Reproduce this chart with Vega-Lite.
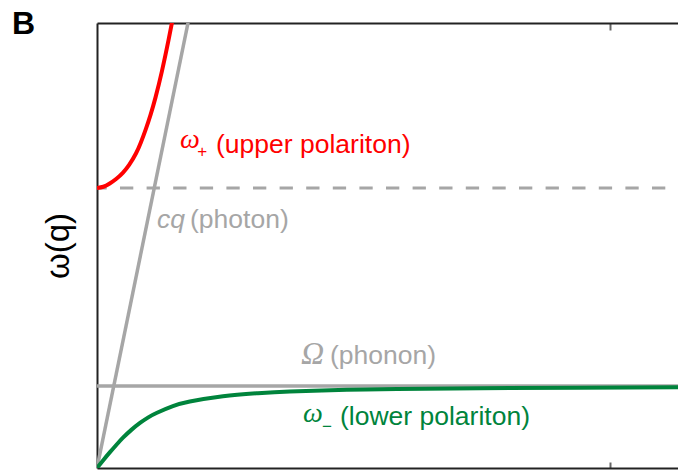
{
  "$schema": "https://vega.github.io/schema/vega-lite/v6.json",
  "width": 581,
  "height": 445,
  "autosize": {"type": "none"},
  "padding": {"left": 97, "top": 23, "right": 0, "bottom": 3},
  "background": "white",
  "config": {"view": {"stroke": null}, "font": "Liberation Sans"},
  "title": {
    "text": "B",
    "anchor": "start",
    "frame": "group",
    "font": "Liberation Sans",
    "fontSize": 32,
    "fontWeight": "bold",
    "color": "black",
    "baseline": "alphabetic",
    "offset": 0,
    "dx": -85,
    "dy": 44
  },
  "datasets": {
    "curves": [
      {"series": "photon", "q": 0, "w": 0},
      {"series": "photon", "q": 0.1800, "w": 5.507},
      {"series": "phonon", "q": 0, "w": 1},
      {"series": "phonon", "q": 1.1326, "w": 1},
      {"series": "omegaL", "q": 0, "w": 3.415},
      {"series": "omegaL", "q": 1.1326, "w": 3.415},
      {"series": "lower", "q": 0, "w": 0},
      {"series": "lower", "q": 0.0126, "w": 0.098},
      {"series": "lower", "q": 0.0253, "w": 0.193},
      {"series": "lower", "q": 0.038, "w": 0.284},
      {"series": "lower", "q": 0.0507, "w": 0.37},
      {"series": "lower", "q": 0.067, "w": 0.465},
      {"series": "lower", "q": 0.0838, "w": 0.55},
      {"series": "lower", "q": 0.10, "w": 0.618},
      {"series": "lower", "q": 0.117, "w": 0.674},
      {"series": "lower", "q": 0.148, "w": 0.754},
      {"series": "lower", "q": 0.181, "w": 0.81},
      {"series": "lower", "q": 0.2456, "w": 0.875},
      {"series": "lower", "q": 0.312, "w": 0.912},
      {"series": "lower", "q": 0.376, "w": 0.934},
      {"series": "lower", "q": 0.487, "w": 0.953},
      {"series": "lower", "q": 0.585, "w": 0.963},
      {"series": "lower", "q": 0.747, "w": 0.973},
      {"series": "lower", "q": 0.936, "w": 0.98},
      {"series": "lower", "q": 1.1326, "w": 0.984},
      {"series": "upper", "q": 0, "w": 3.415},
      {"series": "upper", "q": 0.01235, "w": 3.43},
      {"series": "upper", "q": 0.0248, "w": 3.47},
      {"series": "upper", "q": 0.0372, "w": 3.525},
      {"series": "upper", "q": 0.0503, "w": 3.60},
      {"series": "upper", "q": 0.063, "w": 3.70},
      {"series": "upper", "q": 0.0759, "w": 3.835},
      {"series": "upper", "q": 0.0855, "w": 3.97},
      {"series": "upper", "q": 0.095, "w": 4.13},
      {"series": "upper", "q": 0.1045, "w": 4.31},
      {"series": "upper", "q": 0.1141, "w": 4.52},
      {"series": "upper", "q": 0.1266, "w": 4.84},
      {"series": "upper", "q": 0.1395, "w": 5.22},
      {"series": "upper", "q": 0.1467, "w": 5.45},
      {"series": "upper", "q": 0.1519, "w": 5.62}
    ],
    "labels": [
      {"series": "upper", "kind": "omega", "q": 0.1618, "w": 3.90, "text": "ω"},
      {"series": "upper", "kind": "sub", "q": 0.1955, "w": 3.79, "text": "+"},
      {"series": "upper", "kind": "name", "q": 0.232, "w": 3.84, "text": "(upper polariton)"},
      {"series": "photon", "kind": "symsans", "q": 0.117, "w": 2.93, "text": "cq"},
      {"series": "photon", "kind": "name", "q": 0.1813, "w": 2.93, "text": "(photon)"},
      {"series": "phonon", "kind": "Omega", "q": 0.3976, "w": 1.268, "text": "Ω"},
      {"series": "phonon", "kind": "name", "q": 0.454, "w": 1.268, "text": "(phonon)"},
      {"series": "lower", "kind": "omega", "q": 0.4016, "w": 0.56, "text": "ω"},
      {"series": "lower", "kind": "sub", "q": 0.4385, "w": 0.445, "text": "−"},
      {"series": "lower", "kind": "name", "q": 0.4737, "w": 0.524, "text": "(lower polariton)"}
    ]
  },
  "resolve": {"axis": {"x": "independent"}},
  "layer": [
    {
      "data": {"name": "curves"},
      "transform": [{"filter": "datum.series === 'photon' || datum.series === 'phonon'"}],
      "mark": {"type": "line", "clip": true, "color": "#a6a6a6", "strokeWidth": 3.5},
      "encoding": {
        "x": {
          "field": "q", "type": "quantitative",
          "scale": {"domain": [0, 1.1326], "nice": false, "zero": false},
          "axis": {
            "orient": "bottom", "values": [1], "labels": false, "grid": false, "title": null,
            "ticks": true, "tickSize": -6, "tickWidth": 2, "tickColor": "#666666",
            "domainColor": "#222222", "domainWidth": 2
          }
        },
        "y": {
          "field": "w", "type": "quantitative",
          "scale": {"domain": [0, 5.427], "nice": false, "zero": false},
          "axis": {
            "orient": "left", "ticks": false, "labels": false, "grid": false,
            "domainColor": "#222222", "domainWidth": 2,
            "title": "ω(q)", "titleFont": "Liberation Sans", "titleFontSize": 33,
            "titleFontWeight": "normal", "titleColor": "black", "titlePadding": 22
          }
        },
        "detail": {"field": "series"}
      }
    },
    {
      "data": {"name": "curves"},
      "transform": [{"filter": "datum.series === 'omegaL'"}],
      "mark": {"type": "line", "clip": true, "color": "#a6a6a6", "strokeWidth": 2.8, "strokeDash": [13.3, 13.3], "strokeDashOffset": 3.6},
      "encoding": {
        "x": {
          "field": "q", "type": "quantitative",
          "axis": {
            "orient": "top", "values": [1], "labels": false, "grid": false, "title": null,
            "ticks": true, "tickSize": -7, "tickWidth": 2, "tickColor": "#666666",
            "domainColor": "#222222", "domainWidth": 2
          }
        },
        "y": {"field": "w", "type": "quantitative"}
      }
    },
    {
      "data": {"name": "curves"},
      "transform": [{"filter": "datum.series === 'lower'"}],
      "mark": {"type": "line", "clip": true, "color": "#00843c", "strokeWidth": 4, "interpolate": "natural"},
      "encoding": {
        "x": {"field": "q", "type": "quantitative", "axis": null},
        "y": {"field": "w", "type": "quantitative"}
      }
    },
    {
      "data": {"name": "curves"},
      "transform": [{"filter": "datum.series === 'upper'"}],
      "mark": {"type": "line", "clip": true, "color": "#ff0000", "strokeWidth": 4, "interpolate": "natural"},
      "encoding": {
        "x": {"field": "q", "type": "quantitative", "axis": null},
        "y": {"field": "w", "type": "quantitative"}
      }
    },
    {
      "data": {"name": "labels"},
      "transform": [{"filter": "datum.kind === 'omega'"}],
      "mark": {"type": "text", "align": "left", "baseline": "alphabetic", "font": "Liberation Serif", "fontStyle": "italic", "fontSize": 28},
      "encoding": {
        "x": {"field": "q", "type": "quantitative", "axis": null},
        "y": {"field": "w", "type": "quantitative"},
        "text": {"field": "text"},
        "color": {"field": "series", "type": "nominal", "legend": null,
          "scale": {"domain": ["upper", "photon", "phonon", "lower"], "range": ["#ff0000", "#a6a6a6", "#a6a6a6", "#00843c"]}}
      }
    },
    {
      "data": {"name": "labels"},
      "transform": [{"filter": "datum.kind === 'Omega'"}],
      "mark": {"type": "text", "align": "left", "baseline": "alphabetic", "font": "Liberation Serif", "fontStyle": "italic", "fontSize": 32},
      "encoding": {
        "x": {"field": "q", "type": "quantitative", "axis": null},
        "y": {"field": "w", "type": "quantitative"},
        "text": {"field": "text"},
        "color": {"field": "series", "type": "nominal", "legend": null}
      }
    },
    {
      "data": {"name": "labels"},
      "transform": [{"filter": "datum.kind === 'symsans'"}],
      "mark": {"type": "text", "align": "left", "baseline": "alphabetic", "font": "Liberation Sans", "fontStyle": "italic", "fontSize": 26.5},
      "encoding": {
        "x": {"field": "q", "type": "quantitative", "axis": null},
        "y": {"field": "w", "type": "quantitative"},
        "text": {"field": "text"},
        "color": {"field": "series", "type": "nominal", "legend": null}
      }
    },
    {
      "data": {"name": "labels"},
      "transform": [{"filter": "datum.kind === 'sub'"}],
      "mark": {"type": "text", "align": "left", "baseline": "alphabetic", "font": "Liberation Sans", "fontSize": 17},
      "encoding": {
        "x": {"field": "q", "type": "quantitative", "axis": null},
        "y": {"field": "w", "type": "quantitative"},
        "text": {"field": "text"},
        "color": {"field": "series", "type": "nominal", "legend": null}
      }
    },
    {
      "data": {"name": "labels"},
      "transform": [{"filter": "datum.kind === 'name'"}],
      "mark": {"type": "text", "align": "left", "baseline": "alphabetic", "font": "Liberation Sans", "fontSize": 26.5},
      "encoding": {
        "x": {"field": "q", "type": "quantitative", "axis": null},
        "y": {"field": "w", "type": "quantitative"},
        "text": {"field": "text"},
        "color": {"field": "series", "type": "nominal", "legend": null}
      }
    }
  ]
}
